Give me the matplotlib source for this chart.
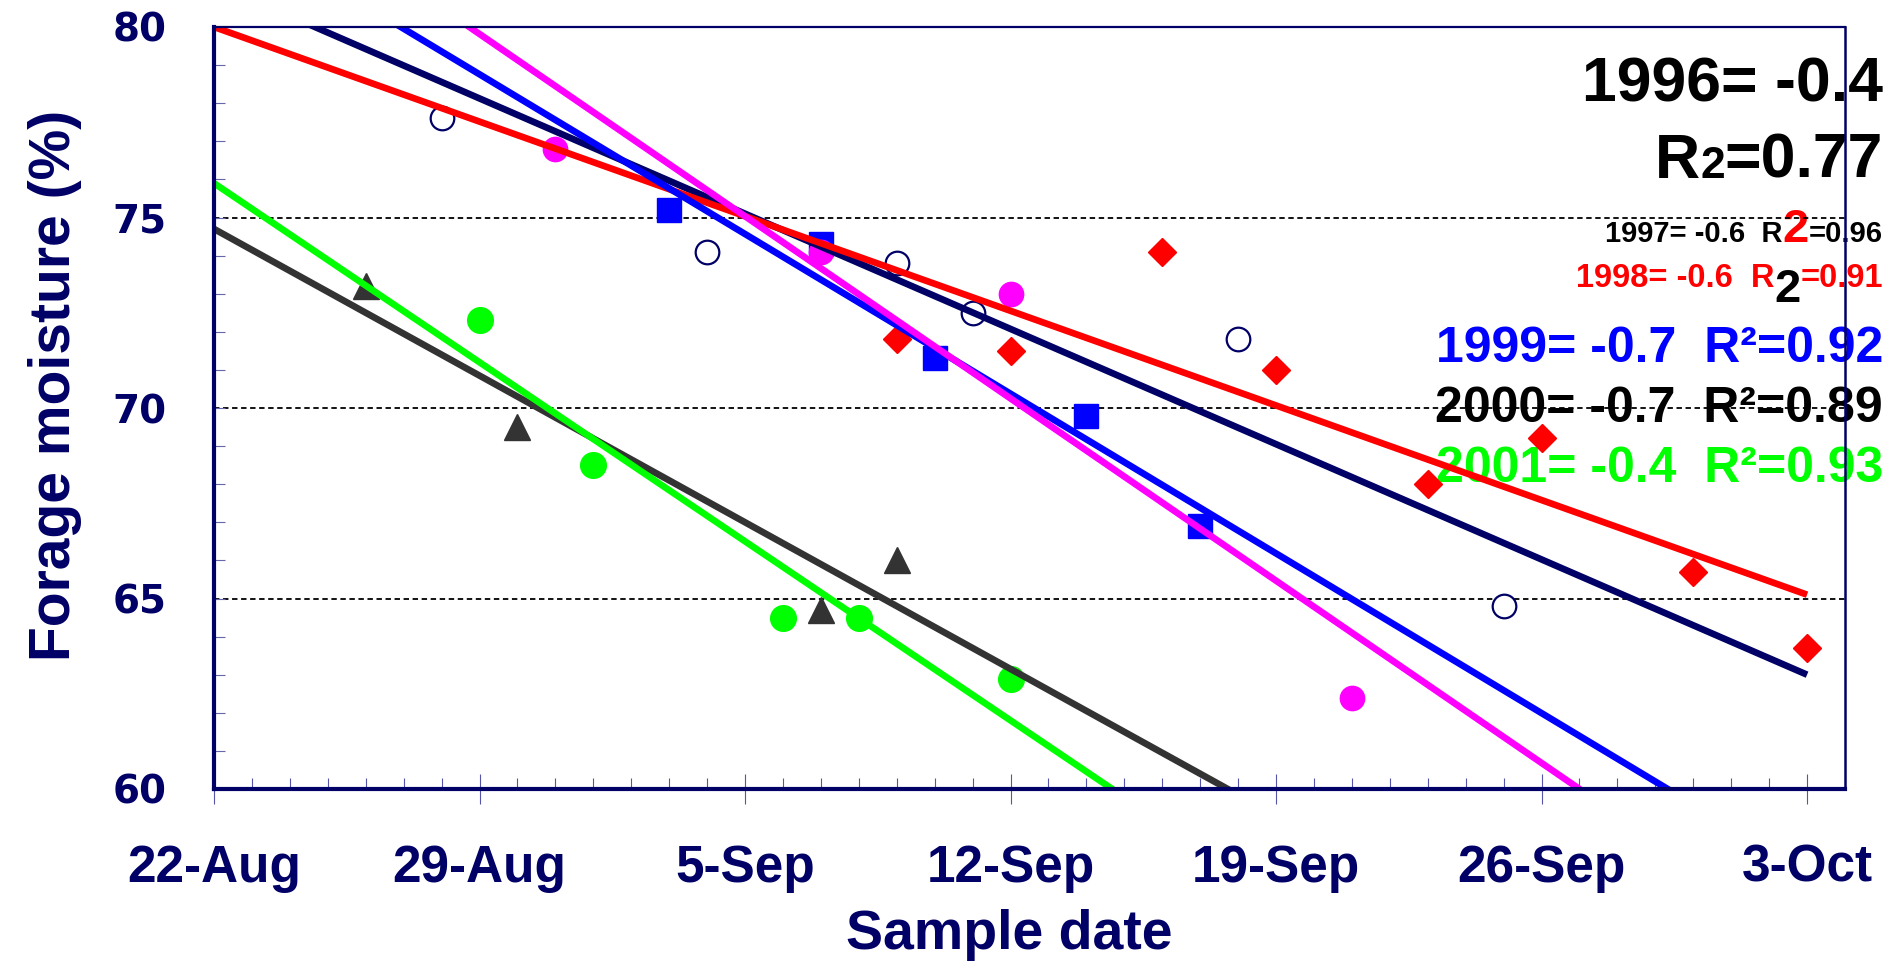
import matplotlib
matplotlib.use("Agg")
import matplotlib.pyplot as plt
from matplotlib.ticker import MultipleLocator, FixedLocator
from matplotlib.transforms import IdentityTransform

# x values are days after 22-Aug
tick_days = [0, 7, 14, 21, 28, 35, 42]
tick_labels = ["22-Aug", "29-Aug", "5-Sep", "12-Sep", "19-Sep", "26-Sep", "3-Oct"]
y_ticks = [60, 65, 70, 75, 80]

open_days = [6, 13, 18, 20, 27, 34]
open_moist = [77.6, 74.1, 73.8, 72.5, 71.8, 64.8]

diamond_days = [18, 21, 25, 28, 32, 35, 39, 42]
diamond_moist = [71.8, 71.5, 74.1, 71.0, 68.0, 69.2, 65.7, 63.7]

square_days = [12, 16, 19, 23, 26]
square_moist = [75.2, 74.3, 71.3, 69.8, 66.9]

pink_days = [9, 16, 21, 30]
pink_moist = [76.8, 74.1, 73.0, 62.4]

tri_days = [4, 8, 16, 18]
tri_moist = [73.2, 69.5, 64.7, 66.0]

green_days = [7, 10, 15, 17, 21]
green_moist = [72.3, 68.5, 64.5, 64.5, 62.9]

# trend lines: value at 22-Aug and at 3-Oct
trend_days = [0, 42]
trend_navy = [81.15, 63.0]
trend_red = [80.0, 65.1]
trend_blue = [82.95, 57.8]
trend_pink = [84.6, 55.9]
trend_gray = [74.7, 51.6]
trend_green = [75.9, 47.7]

NAVY = "#000066"
W, H = 1904, 966
sans = ["Liberation Sans", "DejaVu Sans"]

fig = plt.figure(figsize=(W / 100, H / 100), dpi=100)
ax = fig.add_axes([214 / W, 1 - 789 / H, (1845 - 214) / W, (789 - 27) / H])

# markers
ax.plot(open_days, open_moist, "o", ms=17, mfc="white", mec=NAVY, mew=1.6, zorder=2)
ax.plot(diamond_days, diamond_moist, "D", ms=14, color="#ff0000", zorder=2)
ax.plot(square_days, square_moist, "s", ms=17.5, color="#0000ff", zorder=2)
ax.plot(pink_days, pink_moist, "o", ms=17.5, color="#ff00ff", zorder=2.1)
ax.plot(tri_days, tri_moist, "^", ms=19, color="#333333", zorder=2)
ax.plot(green_days, green_moist, "o", ms=18.5, color="#00ff00", zorder=2)

# trend lines
for vals, col in [(trend_navy, NAVY), (trend_red, "#ff0000"), (trend_blue, "#0000ff"),
                  (trend_pink, "#ff00ff"), (trend_gray, "#333333"), (trend_green, "#00ff00")]:
    ax.plot(trend_days, vals, color=col, lw=4.8, solid_capstyle="butt", zorder=3)

for yv in [65, 70, 75]:
    ax.axhline(yv, color="black", lw=1.3, dashes=(3, 2), zorder=1.5)

ax.set_xlim(0, 43)
ax.set_ylim(60, 80)

ax.xaxis.set_major_locator(FixedLocator(tick_days))
ax.set_xticks(tick_days)
ax.set_xticklabels(tick_labels)
ax.xaxis.set_minor_locator(MultipleLocator(1))
ax.set_yticks(y_ticks)
ax.yaxis.set_minor_locator(MultipleLocator(1))

ax.tick_params(axis="x", which="major", direction="inout", length=21, width=0.8,
               color="#5555aa", pad=29, labelsize=37, labelcolor=NAVY)
ax.tick_params(axis="x", which="minor", direction="in", length=8, width=0.8, color="#5555aa")
ax.tick_params(axis="y", which="both", direction="in", length=8, width=0.8,
               color="#6666aa", pad=34, labelsize=28, labelcolor=NAVY)
for lab in ax.get_xticklabels():
    lab.set_family(sans)
    lab.set_fontweight("bold")
for lab in ax.get_yticklabels():
    lab.set_family("DejaVu Sans")
    lab.set_fontweight("bold")

for side, lw in [("left", 3.0), ("bottom", 3.0), ("top", 1.6), ("right", 1.8)]:
    ax.spines[side].set_color(NAVY)
    ax.spines[side].set_linewidth(lw)
    ax.spines[side].set_zorder(4)

fig.text(55 / W, 1 - 385 / H, "Forage moisture (%)", rotation=90, ha="center", va="center",
         fontsize=41, fontweight="bold", color=NAVY, family=sans)
fig.text(1009 / W, 1 - 935 / H, "Sample date", ha="center", va="center",
         fontsize=40, fontweight="bold", color=NAVY, family=sans)

renderer = fig.canvas.get_renderer()


def runs_right(x_right, y_base, runs):
    # draw pieces of text right to left, ending at x_right, baseline y_base (px from top)
    x = x_right
    for s, size, color, dy in reversed(runs):
        t = ax.text(x, H - (y_base + dy), s, transform=IdentityTransform(), ha="right",
                    va="baseline", fontsize=size, color=color, fontweight="bold",
                    family=sans, zorder=1, clip_on=False)
        x = t.get_window_extent(renderer).x0


XR = 1883
runs_right(XR, 102, [("1996= -0.4", 45, "black", 0)])
runs_right(XR, 178, [("R", 45, "black", 0), ("2", 32, "black", 0), ("=0.77", 45, "black", 0)])
runs_right(XR, 242, [("1997= -0.6  R", 21, "black", 0), ("2", 34, "#ff0000", 0),
                     ("=0.96", 21, "black", 0)])
runs_right(XR, 287, [("1998= -0.6  R", 23.5, "#ff0000", 0), ("2", 34, "black", 15),
                     ("=0.91", 23.5, "#ff0000", 0)])
runs_right(XR, 362, [("1999= -0.7  R²=0.92", 36, "#0000ff", 0)])
runs_right(XR, 422, [("2000= -0.7  R²=0.89", 36, "black", 0)])
runs_right(XR, 482, [("2001= -0.4  R²=0.93", 36, "#00ff00", 0)])

fig.savefig("out.png", dpi=100)
